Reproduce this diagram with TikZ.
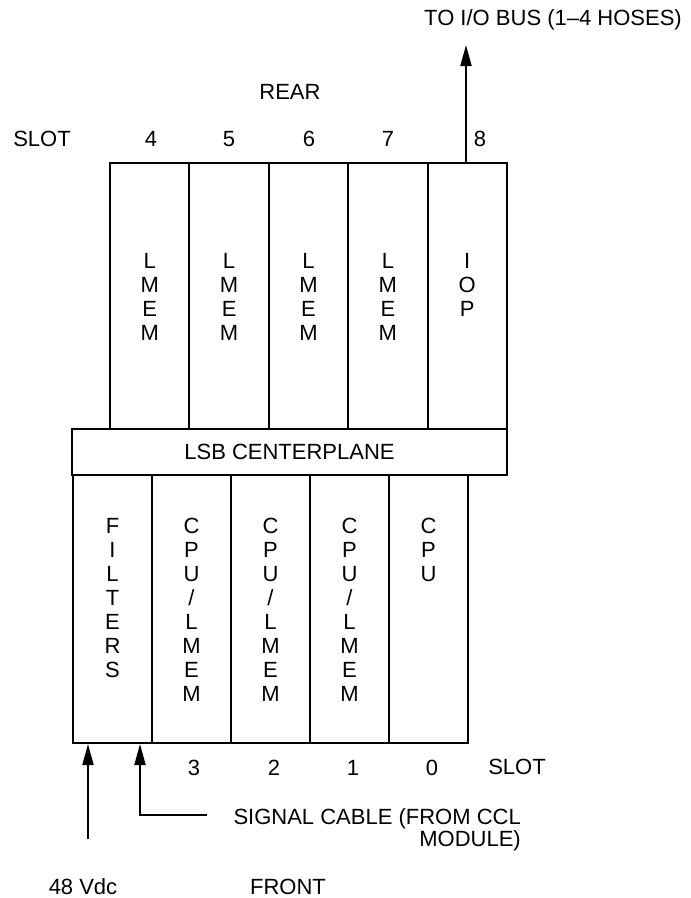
\documentclass[tikz,border=0pt]{standalone}
\usepackage{fontspec}
\setmainfont{Liberation Sans}
\usetikzlibrary{arrows.meta}
\begin{document}
\begin{tikzpicture}[x=1pt,y=-1pt,
  every node/.style={font=\fontsize{22}{24}\selectfont, inner sep=0pt},
  board/.style={draw, line width=2pt, minimum height=#1},
  vlabel/.style={align=center, anchor=north},
  lbl/.style={anchor=base},
  arr/.style={line width=2pt, -{Triangle[length=21pt,width=11pt]}}]
\useasboundingbox (0,0) rectangle (691,898);

% rear boards
\foreach \i/\x in {4/149.7,5/229.1,6/308.5,7/387.9,8/467.3}
  \node[board=266pt, minimum width=79.4pt] (r\i) at (\x,296) {};
% front boards
\foreach \i/\x in {f/112.5,3/191.5,2/270.5,1/349.5,0/428.5}
  \node[board=268pt, minimum width=79pt] (fr\i) at (\x,609) {};
% centerplane
\node[draw, line width=2pt, minimum width=435pt, minimum height=46pt, fill=white] (lsb) at (289.5,452) {LSB CENTERPLANE};

% board labels (rear)
\foreach \i in {4,5,6,7}
  \node[vlabel] (t\i) at (r\i.center |- 0,253) {L\\M\\E\\M};
\node[vlabel] (t8) at (r8.center |- 0,253) {I\\O\\P};
% board labels (front)
\node[vlabel] (tf) at (frf.center |- 0,518) {F\\I\\L\\T\\E\\R\\S};
\foreach \i in {3,2,1}
  \node[vlabel] (tc\i) at (fr\i.center |- 0,518) {C\\P\\U\\/\\L\\M\\E\\M};
\node[vlabel] (tc0) at (fr0.center |- 0,518) {C\\P\\U};

% top labels
\node[lbl] (iobus) at (553,25) {TO I/O BUS (1--4 HOSES)};
\node[lbl] (rear) at (290,99) {REAR};
\node[lbl] (slottop) at (42,146.5) {SLOT};
\node[lbl] (n4) at (151,146.5) {4};
\node[lbl] (n5) at (229,146.5) {5};
\node[lbl] (n6) at (309,146.5) {6};
\node[lbl] (n7) at (388,146.5) {7};
\node[lbl] (n8) at (480,146.5) {8};

% bottom labels
\node[lbl] (n3) at (194,775) {3};
\node[lbl] (n2) at (274,775) {2};
\node[lbl] (n1) at (353,775) {1};
\node[lbl] (n0) at (432,775) {0};
\node[lbl] (slotbot) at (517,774) {SLOT};
\node[align=right, anchor=north east, font=\fontsize{22}{21.7}\selectfont] (sigtxt) at (521,808.5) {SIGNAL CABLE (FROM CCL\\MODULE)};
\node[lbl] (vdc) at (83,894) {48 Vdc};
\node[lbl] (front) at (288,894) {FRONT};

% arrows
\coordinate (iotip) at (466,45);
\draw[arr] (r8.north -| iotip) -- (iotip);
\coordinate (vdcend) at (88,839);
\draw[arr] (vdcend) -- (vdcend |- frf.south);
\coordinate (sigend) at (207,815);
\coordinate (sigbend) at (140,815);
\draw[arr] (sigend) -- (sigbend) -- (sigbend |- frf.south);
\end{tikzpicture}
\end{document}
